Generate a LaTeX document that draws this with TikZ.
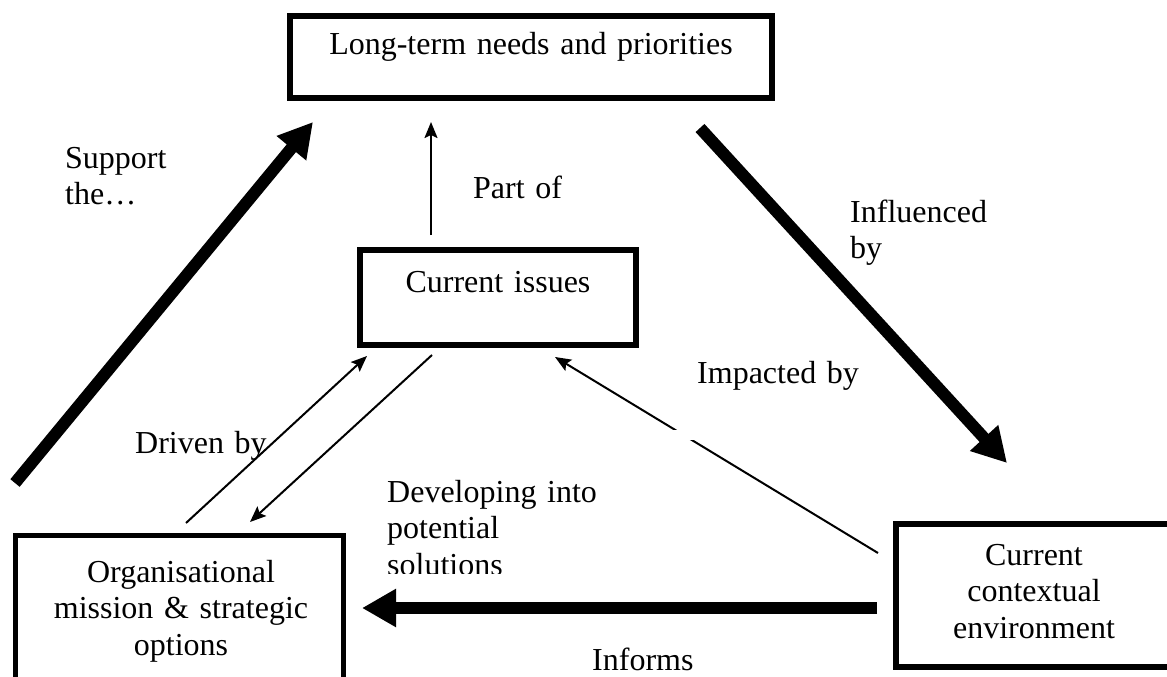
\documentclass[tikz,border=0pt]{standalone}
\usepackage{fontspec}
\setmainfont{Liberation Serif}
\usetikzlibrary{arrows.meta,calc}
\begin{document}
\begin{tikzpicture}[x=1pt,y=-1pt,
  box/.style={draw, line width=6pt, inner sep=0pt, outer sep=0pt},
  bigarrow/.style={line width=12pt, -{Triangle[length=34pt,width=36pt]}},
  thinarrow/.style={line width=2pt, -{Stealth[length=16pt,width=13pt,inset=3pt]}},
  txt/.style={inner sep=0pt, font=\fontsize{32}{36.7}\selectfont},
  lbl/.style={txt, text width=260pt, align=left, anchor=base west},
  ctr/.style={txt, text width=520pt, align=center, anchor=base}]
\useasboundingbox (0,0) rectangle (1167,677);

% boxes
\node[box, minimum width=482pt, minimum height=82pt] (needs) at (531,57) {};
\node[box, minimum width=276pt, minimum height=95pt] (issues) at (498,297.5) {};
\node[box, line width=5pt, minimum width=328pt, minimum height=165pt] (mission) at (179.5,618) {};
\node[box, minimum width=279pt, minimum height=143pt] (context) at (1035.5,595.5) {};

% box texts
\node[ctr] (needs-t) at (531,55) {Long-term needs and priorities};
\node[ctr] (issues-t) at (498,292) {Current issues};
\node[ctr] (mission-t) at (181,582) {Organisational\\mission \& strategic\\options};
\node[ctr] (context-t) at (1034,565) {Current\\contextual\\environment};

% connector labels
\node[lbl] (l-support) at (65,168) {Support\\the…};
\node[lbl] (l-partof) at (473,198) {Part of};
\node[lbl] (l-infl) at (850,222) {Influenced\\by};
\node[lbl] (l-impact) at (697,383) {Impacted by};
\node[lbl] (l-driven) at (135,453) {Driven by};
\begin{scope}
  \clip (380,460) rectangle (640,573);
  \node[lbl] (l-develop) at (387,502) {Developing into\\potential\\solutions};
\end{scope}
\node[lbl] (l-informs) at (592,670) {Informs};

% connector end points
\coordinate (sup-a) at (15,483);
\coordinate (sup-b) at (313,122);
\coordinate (inf-a) at (700,128);
\coordinate (inf-b) at (1007,463);
\coordinate (frm-a) at (877,608);
\coordinate (frm-b) at (362,608);
\coordinate (prt-a) at (431,235);
\coordinate (prt-b) at (431,122);
\coordinate (drv-a) at (186,523);
\coordinate (drv-b) at (367,356);
\coordinate (dev-a) at (432,355);
\coordinate (dev-b) at (250,522);
\coordinate (imp-a) at (878,553);
\coordinate (imp-b) at (555,357);

% thick connectors
\draw[bigarrow] (sup-a) -- (sup-b);
\draw[bigarrow] (inf-a) -- (inf-b);
\draw[bigarrow] (frm-a) -- (frm-b);

% thin connectors
\draw[thinarrow] (prt-a) -- (prt-b);
\draw[thinarrow] (drv-a) -- (drv-b);
\draw[thinarrow] (dev-a) -- (dev-b);
\draw[thinarrow] (imp-a) -- node[pos=0.60, fill=white, inner sep=0pt, minimum width=22pt, minimum height=10pt] (imp-gap) {} (imp-b);
\end{tikzpicture}
\end{document}
